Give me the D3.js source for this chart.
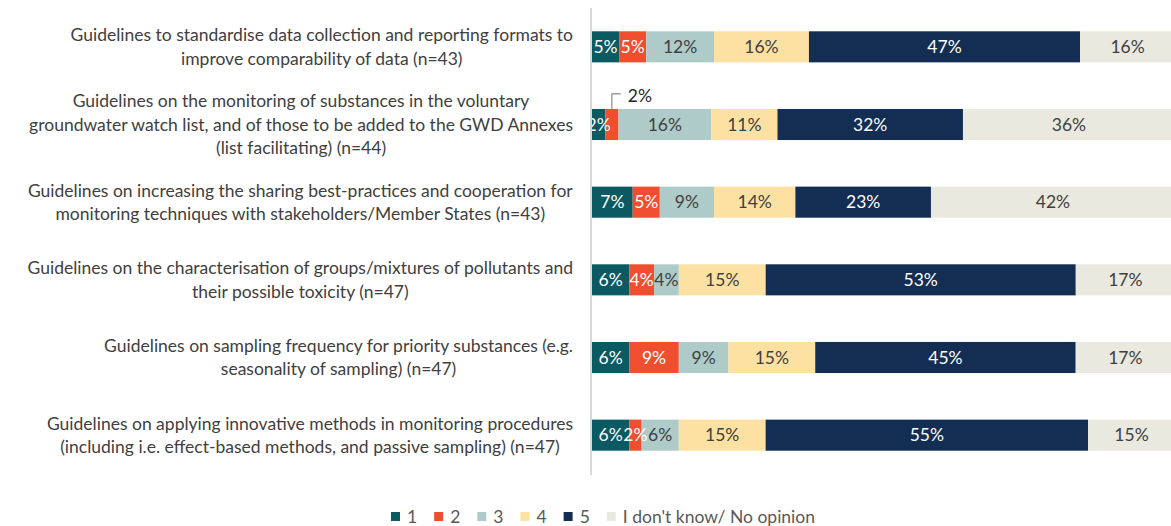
<!DOCTYPE html>
<html>
<head>
<meta charset="utf-8">
<script src="https://cdn.jsdelivr.net/npm/d3@7"></script>
<style>
  body { margin: 0; background: #fff; }
  svg { display: block; font-family: Lato, "Noto Sans", sans-serif; }
</style>
</head>
<body>
<svg id="chart" width="1171" height="526"></svg>
<script>
// question labels, one line per array entry
const questions = [
  ['Guidelines to standardise data collection and reporting formats to', 'improve comparability of data (n=43)'],
  ['Guidelines on the monitoring of substances in the voluntary', 'groundwater watch list, and of those to be added to the GWD Annexes', '(list facilitating) (n=44)'],
  ['Guidelines on increasing the sharing best-practices and cooperation for', 'monitoring techniques with stakeholders/Member States (n=43)'],
  ['Guidelines on the characterisation of groups/mixtures of pollutants and', 'their possible toxicity (n=47)'],
  ['Guidelines on sampling frequency for priority substances (e.g.', 'seasonality of sampling) (n=47)'],
  ['Guidelines on applying innovative methods in monitoring procedures', '(including i.e. effect-based methods, and passive sampling) (n=47)']
];

const answers = ['1', '2', '3', '4', '5', "I don't know/ No opinion"];

// shares per answer, in %, one array per answer (rows follow questions)
const score1 = [4.65, 2.27, 6.98, 6.38, 6.38, 6.38];
const score2 = [4.65, 2.27, 4.65, 4.26, 8.51, 2.13];
const score3 = [11.63, 15.91, 9.30, 4.26, 8.51, 6.38];
const score4 = [16.28, 11.36, 13.95, 14.89, 14.89, 14.89];
const score5 = [46.51, 31.82, 23.26, 53.19, 44.68, 55.32];
const noOpinion = [16.28, 36.36, 41.86, 17.02, 17.02, 14.89];

const colors = ['#0b5961', '#f04f2f', '#aecbc9', '#fde1a2', '#132d53', '#e9e9df'];
const textColors = ['#ffffff', '#ffffff', '#404040', '#404040', '#ffffff', '#404040'];

const series = [score1, score2, score3, score4, score5, noOpinion];

const rows = questions.map((q, i) => {
  const r = { id: i };
  answers.forEach((a, j) => { r[a] = series[j][i]; });
  return r;
});

const svg = d3.select('#chart');
const plotLeft = 592, plotRight = 1175, plotTop = 8, plotBottom = 474;
const fs = 17.5;

const x = d3.scaleLinear().domain([0, 100]).range([plotLeft, plotRight]);
const y = d3.scaleBand().domain(d3.range(questions.length)).range([plotTop, plotBottom]).paddingInner(0.6).paddingOuter(0.3);

const stacked = d3.stack().keys(answers)(rows);

const layers = svg.append('g')
  .selectAll('g')
  .data(stacked)
  .join('g')
  .attr('fill', (d, i) => colors[i]);

layers.selectAll('rect')
  .data(d => d)
  .join('rect')
  .attr('x', d => x(d[0]))
  .attr('y', (d, i) => y(i))
  .attr('width', d => x(d[1]) - x(d[0]))
  .attr('height', y.bandwidth());

// value labels
stacked.forEach((layer, k) => {
  layer.forEach((d, i) => {
    const v = d[1] - d[0];
    const cx = (x(d[0]) + x(d[1])) / 2;
    const cy = y(i) + y.bandwidth() / 2;
    if (i === 1 && k === 1) {
      // tiny slice: label pulled out with a leader line
      const lx = cx, ly = y(i);
      svg.append('path')
        .attr('d', `M${lx},${ly} V${ly - 15} H${lx + 9}`)
        .attr('fill', 'none')
        .attr('stroke', '#8c8c8c')
        .attr('stroke-width', 1.2);
      svg.append('text')
        .attr('x', lx + 16)
        .attr('y', ly - 13)
        .attr('dy', '0.35em')
        .attr('font-size', fs)
        .attr('fill', '#262626')
        .text(Math.round(v) + '%');
      return;
    }
    svg.append('text')
      .attr('x', cx)
      .attr('y', cy)
      .attr('dy', '0.35em')
      .attr('text-anchor', 'middle')
      .attr('font-size', fs)
      .attr('fill', textColors[k])
      .text(Math.round(v) + '%');
  });
});

// axis line
svg.append('line')
  .attr('x1', plotLeft - 1).attr('x2', plotLeft - 1)
  .attr('y1', plotTop).attr('y2', plotBottom + 1)
  .attr('stroke', '#d9d9d9')
  .attr('stroke-width', 2);

// question labels, centred block, right edge at 573
const lineH = 23.5;
questions.forEach((lines, i) => {
  const cy = y(i) + y.bandwidth() / 2;
  const t = svg.append('text')
    .attr('font-size', fs)
    .attr('fill', '#404040')
    .attr('text-anchor', 'middle');
  lines.forEach((s, j) => {
    t.append('tspan')
      .attr('x', 0)
      .attr('y', cy + (j - (lines.length - 1) / 2) * lineH)
      .attr('dy', '0.35em')
      .text(s);
  });
  const w = t.node().getBBox().width;
  t.attr('transform', `translate(${573 - w / 2},0)`);
});

// legend
const legend = svg.append('g').attr('transform', 'translate(0,517)');
let lx = 391;
answers.forEach((a, i) => {
  legend.append('rect')
    .attr('x', lx).attr('y', -5)
    .attr('width', 9).attr('height', 9)
    .attr('fill', colors[i]);
  const t = legend.append('text')
    .attr('x', lx + 16)
    .attr('y', 0)
    .attr('dy', '0.35em')
    .attr('font-size', fs)
    .attr('fill', '#595959')
    .text(a);
  lx += 16 + t.node().getComputedTextLength() + 17;
});
</script>
</body>
</html>
